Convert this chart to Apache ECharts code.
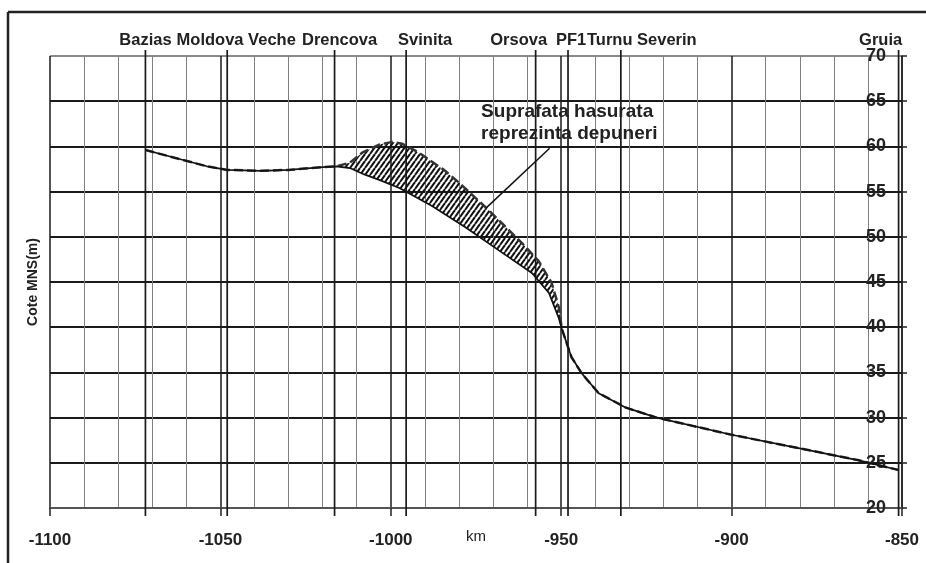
<!DOCTYPE html>
<html>
<head>
<meta charset="utf-8">
<script src="https://cdn.jsdelivr.net/npm/echarts/dist/echarts.min.js"></script>
<style>
  html, body { margin: 0; padding: 0; background: #fff; }
  #chart { width: 926px; height: 563px; }
</style>
</head>
<body>
<div id="chart"></div>
<script>
// stations along the river (km, negative = upstream)
const stationNames = ["Bazias", "Moldova Veche", "Drencova", "Svinita", "Orsova", "PF1", "Turnu Severin", "Gruia"];
const stationKm = [-1072, -1048, -1016.5, -995.5, -957.5, -948, -932.5, -851];

// solid profile (lower boundary of the hatched zone)
const profileLower = [
  [-1072, 59.6], [-1054, 57.8], [-1048, 57.4], [-1038, 57.3], [-1030, 57.4], [-1020, 57.7], [-1016, 57.8],
  [-1012, 57.6], [-1007.8, 56.9], [-1003.4, 56.3], [-997.5, 55.4], [-987.9, 53.4], [-977.9, 51.0],
  [-968.3, 48.5], [-958.6, 46.0], [-953.6, 43.8], [-950.7, 41.0], [-949.8, 39.8],
  [-947, 36.7], [-944, 34.9], [-939, 32.7], [-931, 31.1], [-922, 30.0], [-900, 28.1], [-880, 26.6],
  [-863, 25.3], [-851, 24.2]
];

// dashed profile (upper boundary of the hatched zone)
const profileUpper = [
  [-1072, 59.6], [-1054, 57.8], [-1048, 57.4], [-1038, 57.3], [-1030, 57.4], [-1020, 57.7], [-1016, 57.8],
  [-1012, 58.2], [-1008.4, 59.3], [-1003.4, 60.2], [-999.6, 60.5], [-996.7, 60.3], [-991.7, 59.3],
  [-987.9, 58.3], [-984.4, 57.4], [-980, 56.0], [-972, 53.2], [-967.4, 51.5], [-961.5, 49.3],
  [-956.6, 47.3], [-952.8, 44.9], [-950.7, 42.2], [-949.8, 39.8],
  [-947, 36.7], [-944, 34.9], [-939, 32.7], [-931, 31.1], [-922, 30.0], [-900, 28.1], [-880, 26.6],
  [-863, 25.3], [-851, 24.2]
];

// hatched zone limits (km)
const hatchFrom = -1016;
const hatchTo = -949.8;

// annotation
const noteLines = ["Suprafata hasurata", "reprezinta depuneri"];
const noteAnchor = [-973.5, 65];
const noteLeader = [[-953.4, 59.8], [-972, 53.2]];

// label shifts for station names (px, styling only)
const stationLabelShift = { "Bazias": 0, "Moldova Veche": 9, "Drencova": 5, "Svinita": 19, "Orsova": -17, "PF1": 3, "Turnu Severin": 21, "Gruia": -18 };

const narrow = "'Liberation Sans Narrow', 'Liberation Sans', Arial, sans-serif";
const sans = "'Liberation Sans', Arial, sans-serif";

// hatch pattern "/"
function makeHatch() {
  const c = document.createElement("canvas");
  const w = 5, h = 7;
  c.width = w; c.height = h;
  const ctx = c.getContext("2d");
  ctx.strokeStyle = "#111";
  ctx.lineWidth = 2;
  [-w, 0, w].forEach(function (dx) {
    ctx.beginPath();
    ctx.moveTo(dx, h);
    ctx.lineTo(dx + w, 0);
    ctx.stroke();
  });
  return c;
}
const hatchCanvas = makeHatch();

const hatchPolygon = (() => {
  const up = profileUpper.filter(p => p[0] >= hatchFrom && p[0] <= hatchTo);
  const low = profileLower.filter(p => p[0] >= hatchFrom && p[0] <= hatchTo).reverse();
  return up.concat(low);
})();

const chart = echarts.init(document.getElementById("chart"));

const ySplitColors = ["#1a1a1a", "#1a1a1a", "#1a1a1a", "#1a1a1a", "#1a1a1a", "#1a1a1a", "#1a1a1a", "#1a1a1a", "#1a1a1a", "#1a1a1a", "#8a8a8a"];

const option = {
  animation: false,
  backgroundColor: "#fff",
  grid: { left: 50, right: 24, top: 56, bottom: 55, containLabel: false },
  xAxis: {
    type: "value",
    min: -1100,
    max: -850,
    interval: 50,
    name: "km",
    nameLocation: "middle",
    nameGap: 21,
    nameMoveOverlap: false,
    nameTextStyle: { fontFamily: sans, fontSize: 15, color: "#222" },
    axisLine: { show: true, lineStyle: { color: "#555", width: 2 } },
    axisTick: { show: true, length: 8, lineStyle: { color: "#222", width: 1.5 } },
    axisLabel: {
      margin: 24,
      fontFamily: narrow,
      fontWeight: "bold",
      fontSize: 17,
      color: "#222",
      formatter: v => String(v)
    },
    splitLine: { show: true, lineStyle: { color: "#1a1a1a", width: 1.5 } },
    minorTick: { show: false, splitNumber: 5 },
    minorSplitLine: { show: true, lineStyle: { color: "#808080", width: 1 } }
  },
  yAxis: [
    {
      type: "value",
      position: "right",
      min: 20,
      max: 70,
      interval: 5,
      axisLine: { show: true, lineStyle: { color: "#222", width: 1.5 } },
      axisTick: { show: true, length: 5, lineStyle: { color: "#222", width: 1.5 } },
      axisLabel: { inside: true, margin: 16, fontFamily: narrow, fontWeight: "bold", fontSize: 18, color: "#222" },
      splitLine: { show: true, lineStyle: { color: ySplitColors, width: 1.8 } }
    },
    {
      type: "value",
      position: "left",
      min: 20,
      max: 70,
      name: "Cote MNS(m)",
      nameLocation: "middle",
      nameGap: 10,
      nameMoveOverlap: false,
      nameTextStyle: { fontFamily: sans, fontWeight: "bold", fontSize: 14, color: "#222" },
      axisLine: { show: false },
      axisTick: { show: false },
      axisLabel: { show: false },
      splitLine: { show: false }
    }
  ],
  graphic: [
    { type: "line", shape: { x1: 8, y1: 12, x2: 8, y2: 563 }, style: { stroke: "#222", lineWidth: 2.5 } },
    { type: "line", shape: { x1: 8, y1: 12, x2: 926, y2: 12 }, style: { stroke: "#222", lineWidth: 2.5 } }
  ],
  series: [
    {
      name: "stations",
      type: "custom",
      coordinateSystem: "cartesian2d",
      clip: false,
      z: 3,
      data: stationKm.map((km, i) => [km, i]),
      renderItem: function (params, api) {
        const i = api.value(1);
        const top = api.coord([api.value(0), 70]);
        const bot = api.coord([api.value(0), 20]);
        const name = stationNames[i];
        return {
          type: "group",
          children: [
            {
              type: "line",
              shape: { x1: top[0], y1: top[1] - 6, x2: bot[0], y2: bot[1] + 8 },
              style: { stroke: "#1a1a1a", lineWidth: 1.7 }
            },
            {
              type: "text",
              x: top[0] + stationLabelShift[name],
              y: top[1] - 7,
              style: {
                text: name,
                fontFamily: sans,
                fontWeight: "bold",
                fontSize: 16.5,
                fill: "#222",
                align: "center",
                verticalAlign: "bottom"
              }
            }
          ]
        };
      }
    },
    {
      name: "hatch",
      type: "custom",
      coordinateSystem: "cartesian2d",
      z: 4,
      data: [[hatchFrom, 50]],
      renderItem: function (params, api) {
        const pts = hatchPolygon.map(p => api.coord(p));
        return {
          type: "polygon",
          shape: { points: pts },
          style: { fill: { image: hatchCanvas, repeat: "repeat" }, stroke: "none" }
        };
      }
    },
    {
      name: "upper",
      type: "line",
      z: 5,
      data: profileUpper,
      showSymbol: false,
      lineStyle: { color: "#333", width: 2.5, type: [9, 4] }
    },
    {
      name: "lower",
      type: "line",
      z: 6,
      data: profileLower,
      showSymbol: false,
      lineStyle: { color: "#111", width: 1.7 }
    },
    {
      name: "note",
      type: "custom",
      coordinateSystem: "cartesian2d",
      clip: false,
      z: 7,
      data: [noteAnchor],
      renderItem: function (params, api) {
        const a = api.coord(noteAnchor);
        const p1 = api.coord(noteLeader[0]);
        const p2 = api.coord(noteLeader[1]);
        return {
          type: "group",
          children: [
            {
              type: "line",
              shape: { x1: p1[0], y1: p1[1], x2: p2[0], y2: p2[1] },
              style: { stroke: "#111", lineWidth: 1.5 }
            },
            {
              type: "text",
              x: a[0],
              y: a[1],
              style: {
                text: noteLines.join("\n"),
                fontFamily: sans,
                fontWeight: "bold",
                fontSize: 19,
                lineHeight: 22,
                fill: "#222",
                align: "left",
                verticalAlign: "top"
              }
            }
          ]
        };
      }
    }
  ]
};

chart.setOption(option);
</script>
</body>
</html>
